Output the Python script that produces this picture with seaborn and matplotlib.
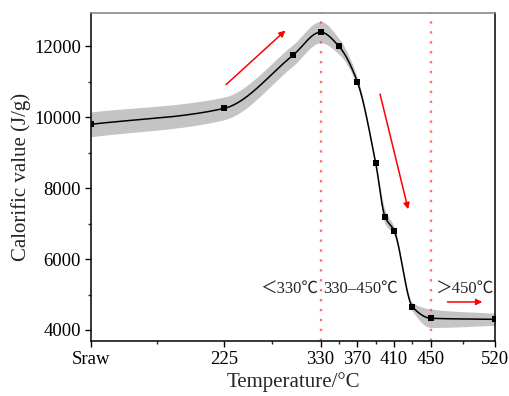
import numpy as np
import pandas as pd
import matplotlib
matplotlib.use("Agg")
import matplotlib.pyplot as plt
import seaborn as sns
from matplotlib.ticker import FixedLocator

# ---- data ----
temps = [80, 225, 300, 330, 350, 370, 390, 400, 410, 430, 450, 520]
calorific = [9800, 10250, 11750, 12400, 12000, 11000, 8700, 7200, 6800, 4650, 4330, 4300]
band = [350, 320, 300, 300, 220, 120, 60, 200, 110, 120, 260, 170]
x_ticks = [80, 225, 330, 370, 410, 450, 520]
x_ticklabels = ["Sraw", "225", "330", "370", "410", "450", "520"]
y_ticks = [4000, 6000, 8000, 10000, 12000]
region_lines = [330, 450]
region_labels = ["＜330℃", "330–450℃", "＞450℃"]


def pchip(x, y, xn):
    x = np.asarray(x, float)
    y = np.asarray(y, float)
    h = np.diff(x)
    d = np.diff(y) / h
    m = np.zeros_like(y)
    for k in range(1, len(x) - 1):
        if d[k - 1] * d[k] > 0:
            w1 = 2 * h[k] + h[k - 1]
            w2 = h[k] + 2 * h[k - 1]
            m[k] = (w1 + w2) / (w1 / d[k - 1] + w2 / d[k])
    m[0] = d[0]
    m[-1] = d[-1]
    idx = np.clip(np.searchsorted(x, xn) - 1, 0, len(x) - 2)
    t = (xn - x[idx]) / h[idx]
    h00 = 2 * t**3 - 3 * t**2 + 1
    h10 = t**3 - 2 * t**2 + t
    h01 = -2 * t**3 + 3 * t**2
    h11 = t**3 - t**2
    return h00 * y[idx] + h10 * h[idx] * m[idx] + h01 * y[idx + 1] + h11 * h[idx] * m[idx + 1]


sns.set_style("ticks")
plt.rcParams["font.family"] = ["Liberation Serif", "Noto Sans CJK SC", "DejaVu Serif"]

fig = plt.figure(figsize=(5.1, 3.96), dpi=100)
ax = fig.add_axes([0.178, 0.139, 0.793, 0.829])

xs = np.linspace(temps[0], temps[-1], 800)
cal = np.array(calorific, float)
err = np.array(band, float)
ys = pchip(temps, cal, xs)
upper = pchip(temps, cal + err, xs)
lower = pchip(temps, cal - err, xs)

ax.fill_between(xs, lower, upper, color="#c4c4c4", lw=0, zorder=1)
sns.lineplot(x=xs, y=ys, ax=ax, color="black", lw=1.1, zorder=3)
sns.scatterplot(x=temps, y=calorific, ax=ax, marker="s", s=24, color="black",
                edgecolor="black", linewidth=0, zorder=4)

for xv in region_lines:
    ax.axvline(xv, color="#ff4040", ls=(0, (1, 3.2)), lw=1.7, alpha=0.75, zorder=2)

arrow_kw = dict(arrowstyle="-|>", color="red", lw=1.1, mutation_scale=9)
ax.annotate("", xy=(294, 12500), xytext=(225, 10870), arrowprops=arrow_kw)
ax.annotate("", xy=(426, 7330), xytext=(394, 10730), arrowprops=arrow_kw)
ax.annotate("", xy=(509, 4790), xytext=(465, 4790), arrowprops=arrow_kw)

ax.text(327, 5170, region_labels[0], ha="right", va="center", fontsize=12)
ax.text(333, 5170, region_labels[1], ha="left", va="center", fontsize=12)
ax.text(455, 5170, region_labels[2], ha="left", va="center", fontsize=12)

ax.set_xlim(80, 520)
ax.set_ylim(3690, 12950)
ax.set_xticks(x_ticks)
ax.set_xticklabels(x_ticklabels)
ax.xaxis.set_minor_locator(FixedLocator([(a + b) / 2 for a, b in zip(x_ticks[:-1], x_ticks[1:])]))
ax.set_yticks(y_ticks)
ax.yaxis.set_minor_locator(FixedLocator([5000, 7000, 9000, 11000]))
ax.tick_params(which="major", direction="out", length=4, width=1, labelsize=13.5,
               colors="black", pad=3)
ax.tick_params(which="minor", direction="out", length=2.5, width=1)

ax.set_xlabel("Temperature/°C", fontsize=15, labelpad=3)
ax.set_ylabel("Calorific value (J/g)", fontsize=15, labelpad=2)

for s in ["left", "bottom", "right"]:
    ax.spines[s].set_visible(True)
    ax.spines[s].set_color("black")
    ax.spines[s].set_linewidth(1.1)
ax.spines["top"].set_visible(True)
ax.spines["top"].set_color("#808080")
ax.spines["top"].set_linewidth(1.1)

fig.savefig("out.png", dpi=100)
